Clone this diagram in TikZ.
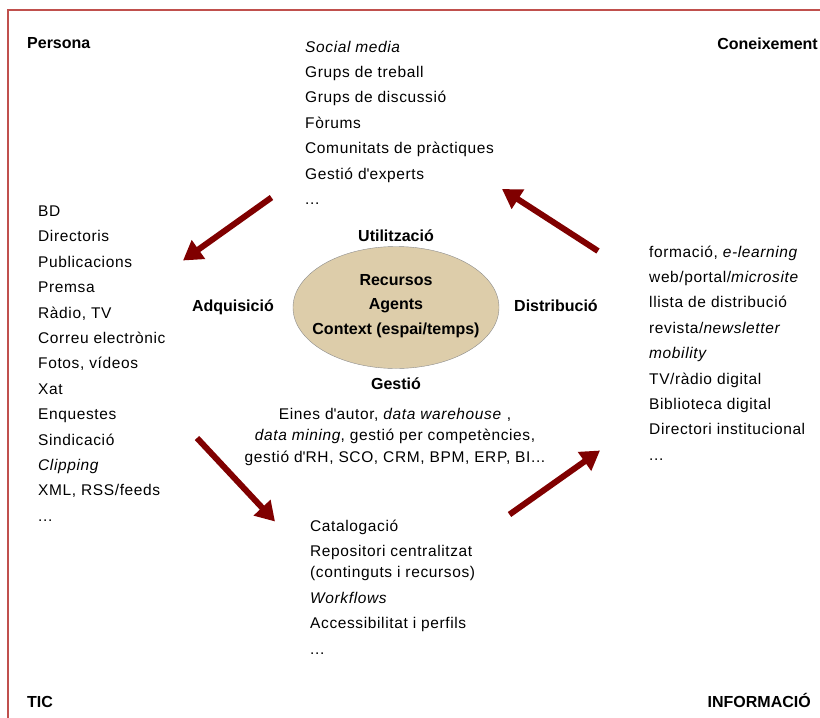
\documentclass[tikz,border=0pt]{standalone}
\usepackage{fontspec}
\setmainfont{Liberation Sans}
\newfontfamily\listfont{Liberation Sans}[LetterSpace=4]
\usetikzlibrary{arrows.meta, shapes.geometric}
\definecolor{framecol}{HTML}{C0504D}
\definecolor{arrowcol}{HTML}{800000}
\definecolor{corecol}{HTML}{DDCDAA}
\definecolor{corelin}{HTML}{8C8C8C}
\tikzset{
  cnode/.style={font=\fontsize{16}{19}\selectfont\bfseries, inner sep=0pt},
  lnode/.style={font=\listfont\fontsize{15.5}{25.4}\selectfont, align=left, inner sep=0pt, anchor=base west},
  enode/.style={ellipse, draw=corelin, fill=corecol, minimum width=206pt, minimum height=122pt, inner sep=0pt},
  flow/.style={-{Triangle[length=19pt, width=22pt]}, line width=6pt, draw=arrowcol},
}

\begin{document}
\begin{tikzpicture}[x=1pt, y=-1pt]
  \useasboundingbox (0,0) rectangle (820,718);
  \draw[framecol, line width=2pt] (7.5,718) -- (7.5,10) -- (820,10);

  \node[cnode, anchor=base west] (pers) at (27,48.5) {Persona};
  \node[cnode, anchor=base east] (cone) at (818,49) {Coneixement};
  \node[cnode, anchor=base west] (tic)  at (27,707) {TIC};
  \node[cnode, anchor=base east] (info) at (811,707) {INFORMACIÓ};

  \node[enode] (core) at (396,307.5) {};
  \node[cnode, align=center, anchor=base, font=\fontsize{16}{24.5}\selectfont\bfseries] (coretxt)
    at (396,334) {Recursos\\Agents\\Context (espai/temps)};
  \node[cnode, anchor=base]      (util) at (396,241)   {Utilització};
  \node[cnode, anchor=base]      (gest) at (396,389)   {Gestió};
  \node[cnode, anchor=base east] (adq)  at (274,311.5) {Adquisició};
  \node[cnode, anchor=base west] (dist) at (514,311.5) {Distribució};

  % base anchor sits on the last line of each list
  \node[lnode] (soc) at (305,204.4) {\textit{Social media}\\Grups de treball\\Grups de discussió\\Fòrums\\
    Comunitats de pràctiques\\Gestió d\textquotesingle experts\\...};
  \node[lnode] (src) at (38,521.3) {BD\\Directoris\\Publicacions\\Premsa\\Ràdio, TV\\Correu electrònic\\
    Fotos, vídeos\\Xat\\Enquestes\\Sindicació\\\textit{Clipping}\\XML, RSS/feeds\\...};
  \node[lnode] (chan) at (649,460.2) {formació, \textit{e-learning}\\web/portal/\textit{microsite}\\
    llista de distribució\\revista/\textit{newsletter}\\\textit{mobility}\\TV/ràdio digital\\
    Biblioteca digital\\Directori institucional\\...};
  \node[lnode] (repo) at (310,654) {Catalogació\\Repositori centralitzat\\[-4pt](continguts i recursos)\\
    \textit{Workflows}\\Accessibilitat i perfils\\...};
  \node[lnode, align=center, anchor=base, font=\listfont\fontsize{15.5}{21.5}\selectfont] (eines) at (395,462)
    {Eines d\textquotesingle autor, \textit{data warehouse} ,\\\textit{data mining}, gestió per competències,\\
     gestió d\textquotesingle RH, SCO, CRM, BPM, ERP, BI...};

  \coordinate (t1) at (271.5,197.5); \coordinate (h1) at (183,260.5);
  \coordinate (t2) at (598,251);     \coordinate (h2) at (502,189);
  \coordinate (t3) at (197,438);     \coordinate (h3) at (275,521.5);
  \coordinate (t4) at (509.5,514.5); \coordinate (h4) at (600,450.5);
  \draw[flow] (t1) -- (h1);
  \draw[flow] (t2) -- (h2);
  \draw[flow] (t3) -- (h3);
  \draw[flow] (t4) -- (h4);
\end{tikzpicture}
\end{document}
